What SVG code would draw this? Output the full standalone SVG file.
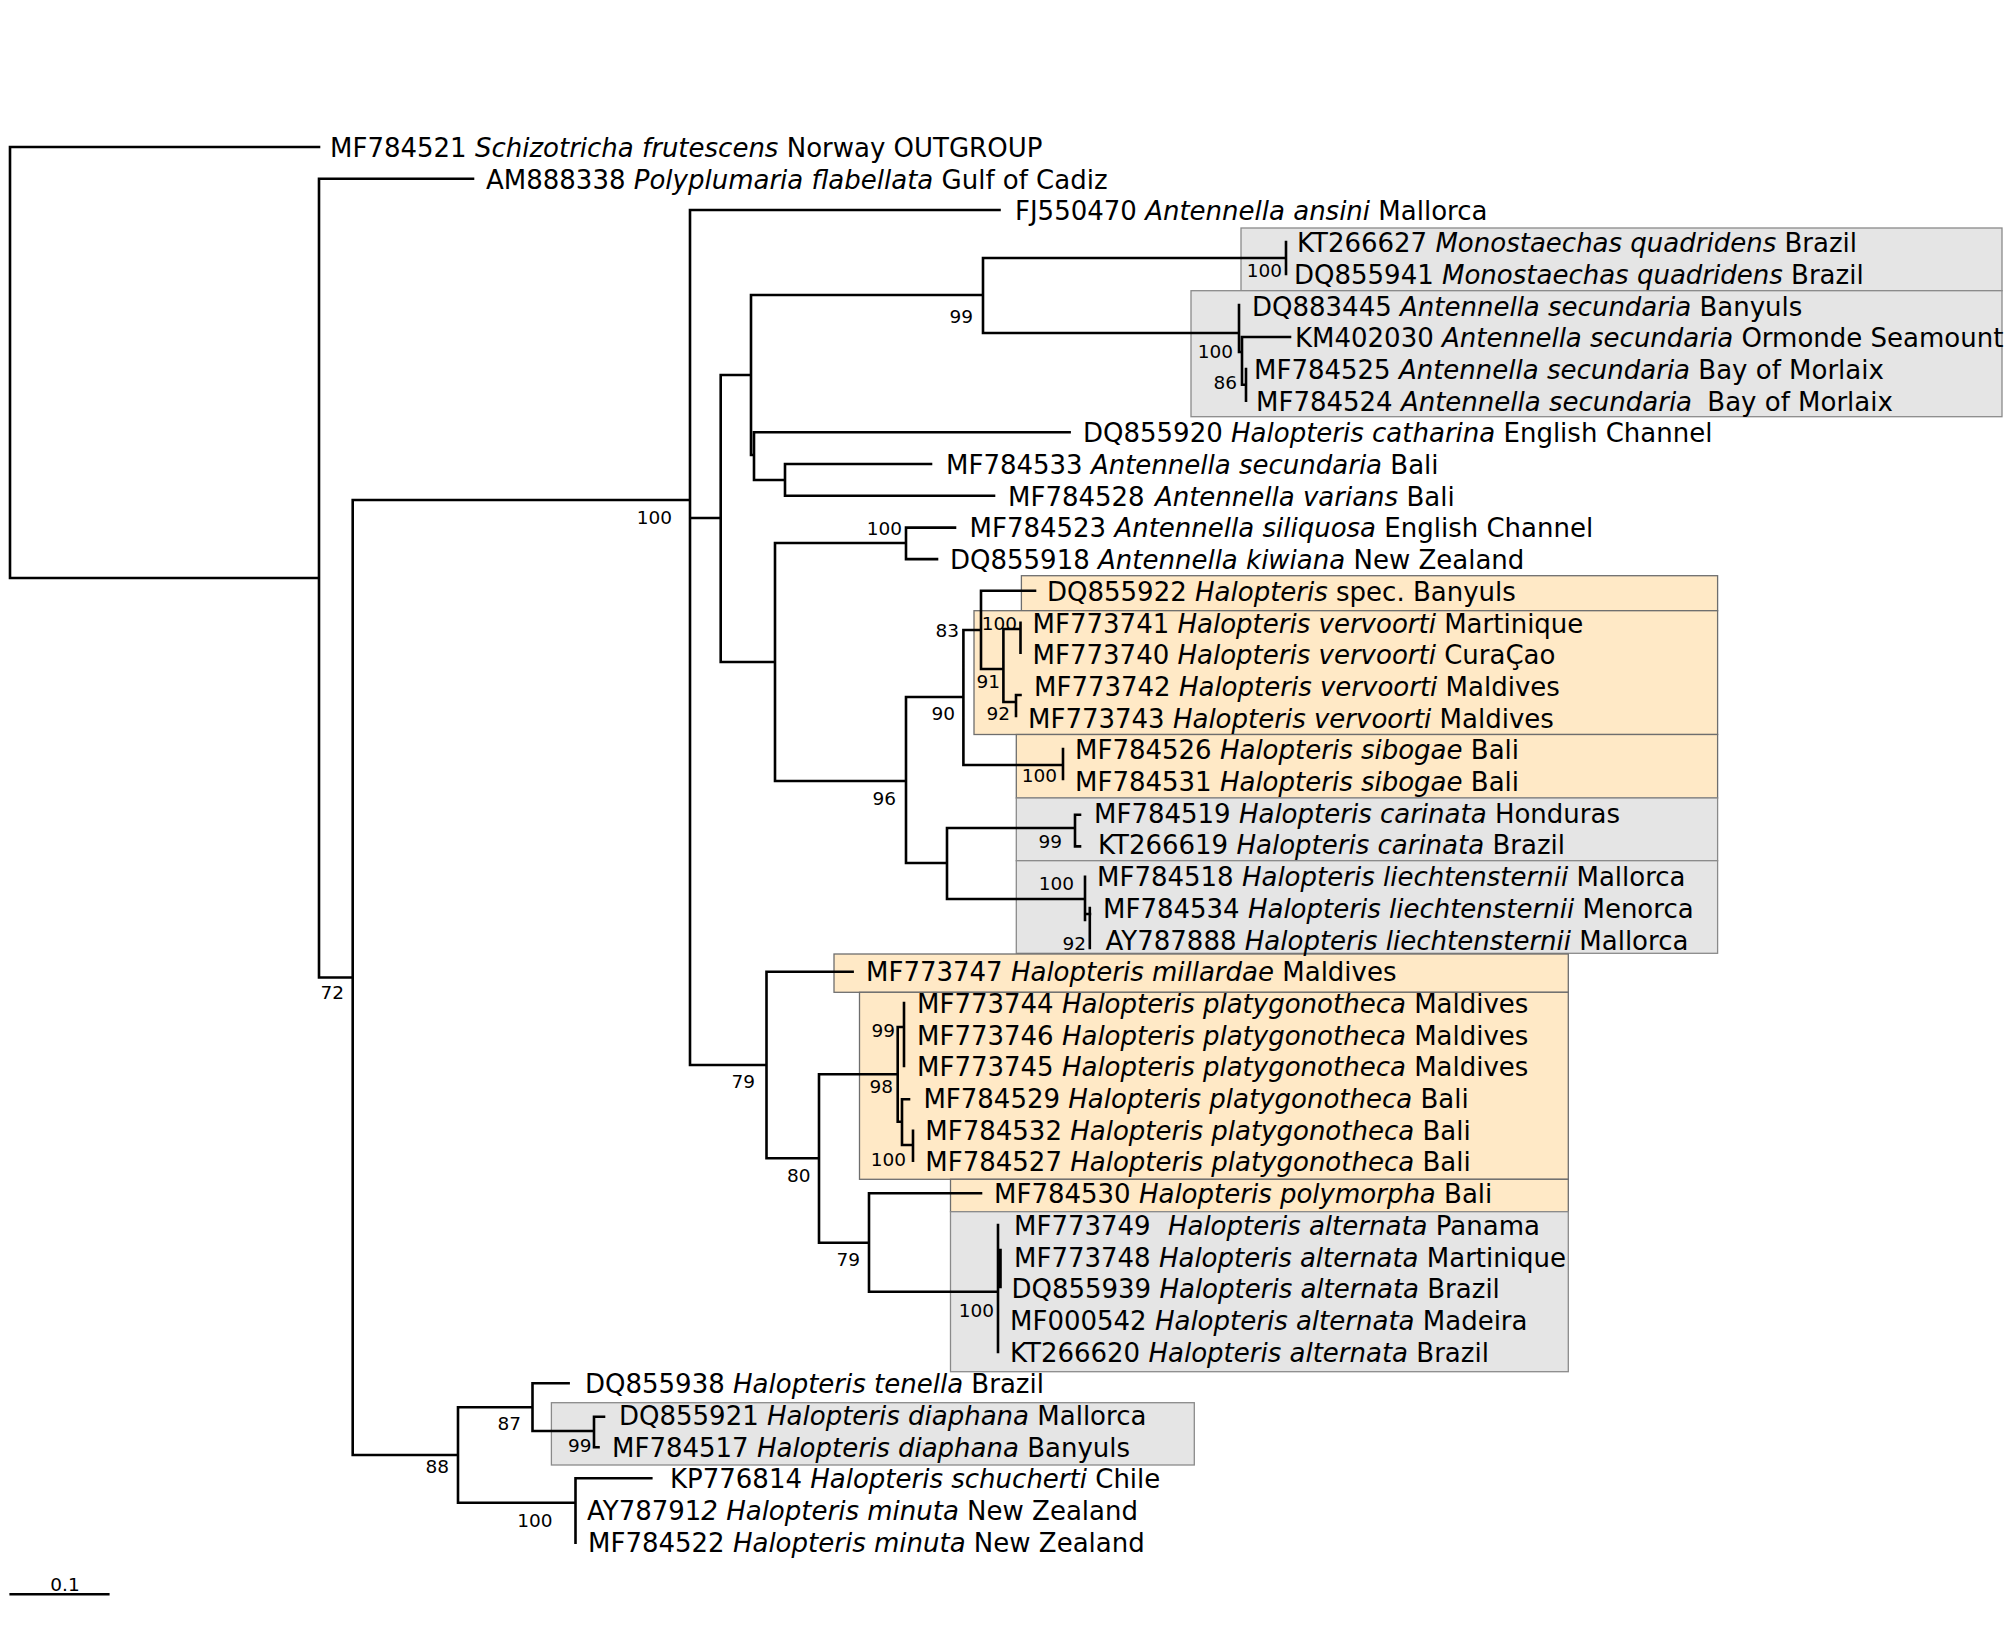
<svg xmlns="http://www.w3.org/2000/svg" width="2012" height="1637" viewBox="0 0 2012 1637">
<style>
.br{stroke:#000;stroke-width:2.6;fill:none;stroke-linecap:square}
.t{font-family:"DejaVu Sans","Liberation Sans",sans-serif;font-size:26px;fill:#000}
.i{font-style:italic}
.bs{font-family:"DejaVu Sans","Liberation Sans",sans-serif;font-size:18.5px;fill:#000;text-anchor:end}
.org{fill:#FFE9C6;stroke:#6e6e6e;stroke-width:1.3}
.gry{fill:#E5E5E5;stroke:#8a8a8a;stroke-width:1.3}
</style>
<rect width="2012" height="1637" fill="#fff"/>
<g id="clade-boxes">
<rect id="box-monostaechas" class="gry" x="1241" y="228" width="761" height="62.7"/>
<rect id="box-secundaria" class="gry" x="1191" y="290.7" width="811" height="126"/>
<rect id="box-spec" class="org" x="1021.4" y="575.7" width="696.2" height="35"/>
<rect id="box-vervoorti" class="org" x="974" y="610.7" width="743.6" height="123.8"/>
<rect id="box-sibogae" class="org" x="1016.3" y="734.5" width="701.3" height="63.5"/>
<rect id="box-carinata" class="gry" x="1016.3" y="798" width="701.3" height="62.7"/>
<rect id="box-liechtensternii" class="gry" x="1016.3" y="860.7" width="701.3" height="92.6"/>
<rect id="box-millardae" class="org" x="834" y="954" width="734.3" height="38.3"/>
<rect id="box-platygonotheca" class="org" x="859.5" y="992.3" width="708.8" height="187"/>
<rect id="box-polymorpha" class="org" x="950.5" y="1179.3" width="617.8" height="32.4"/>
<rect id="box-alternata" class="gry" x="950.5" y="1211.7" width="617.8" height="160"/>
<rect id="box-diaphana" class="gry" x="551.4" y="1402.7" width="642.9" height="62.3"/>
</g>
<g id="connectors">
<path class="br" d="M10 147 V578 M10 147 H319 M10 578 H319
M319 178.7 V977.5 M319 178.7 H473 M319 977.5 H352.7
M352.7 500 V1455 M352.7 500 H690 M352.7 1455 H458
M690 210 V1065 M690 210 H999.5 M690 518 H720.7 M690 1065 H766.5
M720.7 375 V662 M720.7 375 H751 M720.7 662 H775
M751 295 V455 M751 295 H983 M751 455 H754
M983 258 V333 M983 258 H1286 M983 333 H1239
M1286 242 V274
M1239 305 V352 H1242 M1242 337 V384.7 M1242 337 H1290 M1242 384.7 H1246 M1246 369 V400.6
M754 432.3 V480 M754 432.3 H1069.6 M754 480 H785
M785 464 V495.7 M785 464 H931 M785 495.7 H994
M775 543 V781 M775 543 H906 M775 781 H906
M906 527.6 V559.1 M906 527.6 H955 M906 559.1 H937
M906 697 V863 M906 697 H963.4 M906 863 H947
M963.4 630 V765 M963.4 630 H981 M963.4 765 H1063
M981 590.8 V669 M981 590.8 H1035 M981 669 H1003.4
M1003.4 629 V702 M1003.4 629 H1020.5 M1003.4 702 H1016
M1020.5 622.7 V652.7
M1016 695 V716 M1016 695 H1020.5
M1063 749 V779
M947 828 V899 M947 828 H1075 M947 899 H1085
M1075 814.7 V846.4 M1075 814.7 H1080 M1075 846.4 H1080
M1085 876.7 V920 M1085 914 H1090 M1089.8 908 V948
M766.5 971.7 V1158.3 M766.5 971.7 H852.6 M766.5 1158.3 H819
M819 1074.3 V1242.7 M819 1074.3 H897.7 M819 1242.7 H869
M897.7 1027 V1121.7 M897.7 1027 H904 M897.7 1121.7 H902
M904 1003 V1066
M902 1099.3 V1145 M902 1099.3 H909 M902 1145 H913
M913 1130.7 V1160.7
M869 1193.3 V1291.7 M869 1193.3 H981 M869 1291.7 H998
M998 1225 V1352 M1000.5 1250 V1287
M458 1407.3 V1502.7 M458 1407.3 H532.5 M458 1502.7 H575.5
M532.5 1383.3 V1431 M532.5 1383.3 H568.6 M532.5 1431 H594
M594 1416.7 V1447.3 M594 1416.7 H604 M594 1447.3 H598.5
M575.5 1478.3 V1542.7 M575.5 1478.3 H651.3"/>
</g>
<g id="support-values">
<text class="bs" x="672" y="524">100</text>
<text class="bs" x="973" y="323">99</text>
<text class="bs" x="1282" y="277">100</text>
<text class="bs" x="1233" y="358">100</text>
<text class="bs" x="1237" y="389">86</text>
<text class="bs" x="902" y="535">100</text>
<text class="bs" x="896" y="805">96</text>
<text class="bs" x="955" y="720">90</text>
<text class="bs" x="959" y="637">83</text>
<text class="bs" x="1017" y="630">100</text>
<text class="bs" x="1000" y="688">91</text>
<text class="bs" x="1010" y="720">92</text>
<text class="bs" x="1057" y="782">100</text>
<text class="bs" x="1062" y="848">99</text>
<text class="bs" x="1074" y="890">100</text>
<text class="bs" x="1086" y="950">92</text>
<text class="bs" x="344" y="999">72</text>
<text class="bs" x="755" y="1088">79</text>
<text class="bs" x="810.5" y="1182">80</text>
<text class="bs" x="895" y="1037">99</text>
<text class="bs" x="893" y="1093">98</text>
<text class="bs" x="906" y="1166">100</text>
<text class="bs" x="860" y="1266">79</text>
<text class="bs" x="994" y="1317">100</text>
<text class="bs" x="449" y="1473">88</text>
<text class="bs" x="521" y="1430">87</text>
<text class="bs" x="591.6" y="1452">99</text>
<text class="bs" x="552.6" y="1527">100</text>
</g>
<g id="tip-0"><text class="t" x="330" y="157">MF784521 <tspan class="i">Schizotricha frutescens</tspan> Norway OUTGROUP</text></g>
<g id="tip-1"><text class="t" x="486" y="188.7">AM888338 <tspan class="i">Polyplumaria flabellata</tspan> Gulf of Cadiz</text></g>
<g id="tip-2"><text class="t" x="1015" y="220.4">FJ550470 <tspan class="i">Antennella ansini</tspan> Mallorca</text></g>
<g id="tip-3"><text class="t" x="1297" y="252.1">KT266627 <tspan class="i">Monostaechas quadridens</tspan> Brazil</text></g>
<g id="tip-4"><text class="t" x="1294" y="283.8">DQ855941 <tspan class="i">Monostaechas quadridens</tspan> Brazil</text></g>
<g id="tip-5"><text class="t" x="1252" y="315.5">DQ883445 <tspan class="i">Antennella secundaria</tspan> Banyuls</text></g>
<g id="tip-6"><text class="t" x="1295" y="347.2">KM402030 <tspan class="i">Antennella secundaria</tspan> Ormonde Seamount</text></g>
<g id="tip-7"><text class="t" x="1254" y="378.9">MF784525 <tspan class="i">Antennella secundaria</tspan> Bay of Morlaix</text></g>
<g id="tip-8"><text class="t" x="1256" y="410.6">MF784524 <tspan class="i">Antennella secundaria</tspan> <tspan dx="7">Bay</tspan> of Morlaix</text></g>
<g id="tip-9"><text class="t" x="1083" y="442.3">DQ855920 <tspan class="i">Halopteris catharina</tspan> English Channel</text></g>
<g id="tip-10"><text class="t" x="946" y="474">MF784533 <tspan class="i">Antennella secundaria</tspan> Bali</text></g>
<g id="tip-11"><text class="t" x="1008" y="505.7">MF784528 <tspan class="i" dx="2">Antennella varians</tspan> Bali</text></g>
<g id="tip-12"><text class="t" x="969.5" y="537.4">MF784523 <tspan class="i">Antennella siliquosa</tspan> English Channel</text></g>
<g id="tip-13"><text class="t" x="950" y="569.1">DQ855918 <tspan class="i">Antennella kiwiana</tspan> New Zealand</text></g>
<g id="tip-14"><text class="t" x="1047" y="600.8">DQ855922 <tspan class="i">Halopteris</tspan> spec. Banyuls</text></g>
<g id="tip-15"><text class="t" x="1032.6" y="632.5">MF773741 <tspan class="i">Halopteris vervoorti</tspan> Martinique</text></g>
<g id="tip-16"><text class="t" x="1032.6" y="664.2">MF773740 <tspan class="i">Halopteris vervoorti</tspan> CuraÇao</text></g>
<g id="tip-17"><text class="t" x="1034" y="695.9">MF773742 <tspan class="i">Halopteris vervoorti</tspan> Maldives</text></g>
<g id="tip-18"><text class="t" x="1028" y="727.6">MF773743 <tspan class="i">Halopteris vervoorti</tspan> Maldives</text></g>
<g id="tip-19"><text class="t" x="1075" y="759.3">MF784526 <tspan class="i">Halopteris sibogae</tspan> Bali</text></g>
<g id="tip-20"><text class="t" x="1075" y="791">MF784531 <tspan class="i">Halopteris sibogae</tspan> Bali</text></g>
<g id="tip-21"><text class="t" x="1094" y="822.7">MF784519 <tspan class="i">Halopteris carinata</tspan> Honduras</text></g>
<g id="tip-22"><text class="t" x="1098" y="854.4">KT266619 <tspan class="i">Halopteris carinata</tspan> Brazil</text></g>
<g id="tip-23"><text class="t" x="1097" y="886.1">MF784518 <tspan class="i">Halopteris liechtensternii</tspan> Mallorca</text></g>
<g id="tip-24"><text class="t" x="1103" y="917.8">MF784534 <tspan class="i">Halopteris liechtensternii</tspan> Menorca</text></g>
<g id="tip-25"><text class="t" x="1105.6" y="949.5">AY787888 <tspan class="i">Halopteris liechtensternii</tspan> Mallorca</text></g>
<g id="tip-26"><text class="t" x="866" y="981.2">MF773747 <tspan class="i">Halopteris millardae</tspan> Maldives</text></g>
<g id="tip-27"><text class="t" x="917" y="1012.9">MF773744 <tspan class="i">Halopteris platygonotheca</tspan> Maldives</text></g>
<g id="tip-28"><text class="t" x="917" y="1044.6">MF773746 <tspan class="i">Halopteris platygonotheca</tspan> Maldives</text></g>
<g id="tip-29"><text class="t" x="917" y="1076.3">MF773745 <tspan class="i">Halopteris platygonotheca</tspan> Maldives</text></g>
<g id="tip-30"><text class="t" x="923.4" y="1108">MF784529 <tspan class="i">Halopteris platygonotheca</tspan> Bali</text></g>
<g id="tip-31"><text class="t" x="925.3" y="1139.7">MF784532 <tspan class="i">Halopteris platygonotheca</tspan> Bali</text></g>
<g id="tip-32"><text class="t" x="925.3" y="1171.4">MF784527 <tspan class="i">Halopteris platygonotheca</tspan> Bali</text></g>
<g id="tip-33"><text class="t" x="994" y="1203.1">MF784530 <tspan class="i">Halopteris polymorpha</tspan> Bali</text></g>
<g id="tip-34"><text class="t" x="1014" y="1234.8">MF773749 <tspan class="i" dx="9">Halopteris alternata</tspan> Panama</text></g>
<g id="tip-35"><text class="t" x="1014" y="1266.5">MF773748 <tspan class="i">Halopteris alternata</tspan> Martinique</text></g>
<g id="tip-36"><text class="t" x="1011.4" y="1298.2">DQ855939 <tspan class="i">Halopteris alternata</tspan> Brazil</text></g>
<g id="tip-37"><text class="t" x="1010" y="1329.9">MF000542 <tspan class="i">Halopteris alternata</tspan> Madeira</text></g>
<g id="tip-38"><text class="t" x="1010" y="1361.6">KT266620 <tspan class="i">Halopteris alternata</tspan> Brazil</text></g>
<g id="tip-39"><text class="t" x="585" y="1393.3">DQ855938 <tspan class="i">Halopteris tenella</tspan> Brazil</text></g>
<g id="tip-40"><text class="t" x="619" y="1425">DQ855921 <tspan class="i">Halopteris diaphana</tspan> Mallorca</text></g>
<g id="tip-41"><text class="t" x="612" y="1456.7">MF784517 <tspan class="i">Halopteris diaphana</tspan> Banyuls</text></g>
<g id="tip-42"><text class="t" x="670" y="1488.4">KP776814 <tspan class="i">Halopteris schucherti</tspan> Chile</text></g>
<g id="tip-43"><text class="t" x="587" y="1520.1">AY78791<tspan class="i">2 Halopteris minuta</tspan> New Zealand</text></g>
<g id="tip-44"><text class="t" x="588" y="1551.8">MF784522 <tspan class="i">Halopteris minuta</tspan> New Zealand</text></g>
<g id="scale-bar">
<path class="br" d="M10.7 1594.3 H108.3"/>
<text class="bs" style="text-anchor:middle" x="65" y="1590.7">0.1</text>
</g>
</svg>
